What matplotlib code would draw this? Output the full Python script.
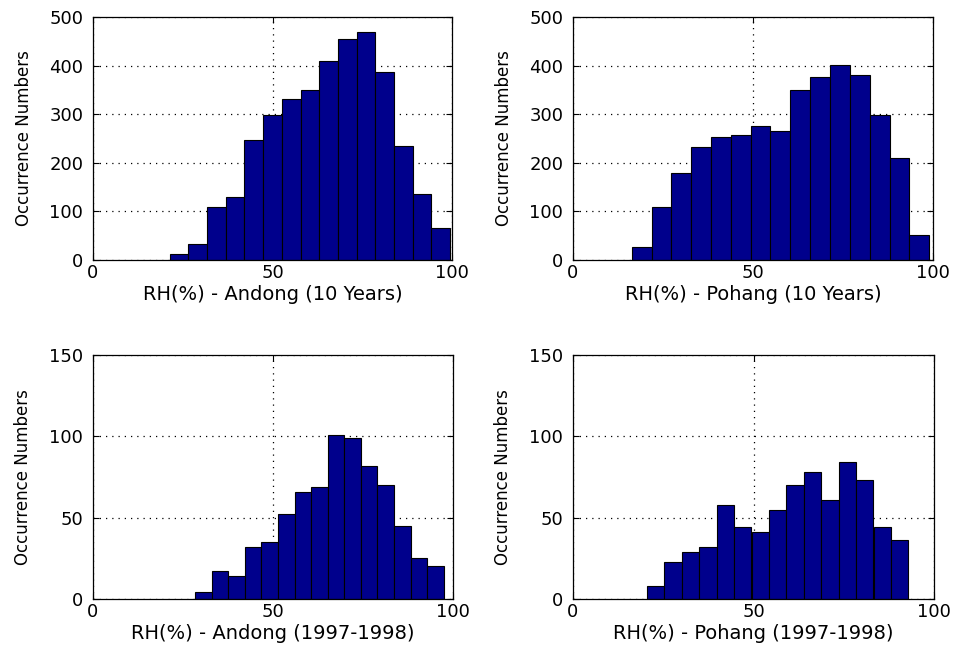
import numpy as np
import matplotlib.pyplot as plt

plt.rcParams['font.family'] = ['DejaVu Sans']

# bin centres (RH %) and counts
andong10_x = [24.0, 29.2, 34.4, 39.6, 44.8, 50.0, 55.2, 60.4, 65.6, 70.8, 76.0, 81.2, 86.4, 91.6, 96.8]
andong10_n = [13, 32, 110, 130, 247, 299, 331, 349, 409, 455, 470, 386, 235, 136, 65]

pohang10_x = [19.1, 24.6, 30.1, 35.6, 41.1, 46.6, 52.1, 57.6, 63.1, 68.7, 74.2, 79.7, 85.2, 90.7, 96.2]
pohang10_n = [27, 110, 179, 232, 253, 258, 275, 265, 349, 377, 401, 381, 298, 209, 52]

andong97_x = [30.7, 35.3, 39.9, 44.5, 49.1, 53.7, 58.3, 62.9, 67.5, 72.1, 76.7, 81.3, 85.9, 90.5, 95.1]
andong97_n = [4, 17, 14, 32, 35, 52, 66, 69, 101, 99, 82, 70, 45, 25, 20]

pohang97_x = [22.9, 27.7, 32.6, 37.4, 42.2, 47.0, 51.9, 56.7, 61.5, 66.4, 71.2, 76.0, 80.8, 85.7, 90.5]
pohang97_n = [8, 23, 29, 32, 58, 44, 41, 55, 70, 78, 61, 84, 73, 44, 36]

widths = [5.2, 5.51, 4.6, 4.83]
labels = ['RH(%) - Andong (10 Years)', 'RH(%) - Pohang (10 Years)',
          'RH(%) - Andong (1997-1998)', 'RH(%) - Pohang (1997-1998)']
ymax = [500, 500, 150, 150]
ystep = [100, 100, 50, 50]

W, H = 958, 647
boxes = [(93, 17, 359, 243), (573, 17, 360, 243),
         (93, 355, 360, 244), (573, 355, 361, 244)]

fig = plt.figure(figsize=(W / 100, H / 100), dpi=100)

data = [(andong10_x, andong10_n), (pohang10_x, pohang10_n),
        (andong97_x, andong97_n), (pohang97_x, pohang97_n)]

for i, (x, n) in enumerate(data):
    l, t, w, h = boxes[i]
    ax = fig.add_axes([l / W, (H - t - h) / H, w / W, h / H])
    ax.bar(x, n, width=widths[i], color='#00008c', edgecolor='black', linewidth=0.8, zorder=2)
    ax.set_xlim(0, 100)
    ax.set_ylim(0, ymax[i])
    ax.set_xticks([0, 50, 100])
    ax.set_yticks(np.arange(0, ymax[i] + 1, ystep[i]))
    ax.set_axisbelow(True)
    ax.grid(True, linestyle=(0, (1, 4)), color='black', linewidth=0.9)
    ax.tick_params(direction='in', length=4, top=True, right=True,
                   labelsize=13, pad=7, width=0.8)
    ax.tick_params(axis='x', pad=3)
    for s in ax.spines.values():
        s.set_linewidth(0.9)
    ax.set_xlabel(labels[i], fontsize=14, labelpad=2)
    ax.set_ylabel('Occurrence Numbers', fontsize=12, labelpad=12)

fig.savefig('out.png', dpi=100)
